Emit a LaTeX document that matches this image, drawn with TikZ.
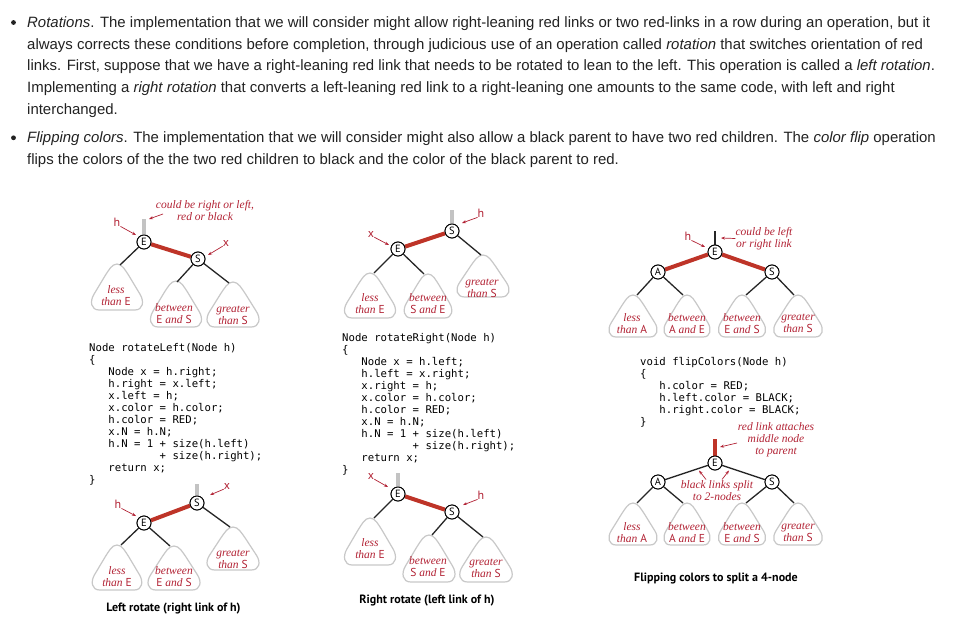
\documentclass[tikz,border=0pt]{standalone}
\usepackage{fontspec}
\setmainfont{Liberation Sans}
\newfontfamily\codefont{DejaVu Sans Mono}
\newfontfamily\labfont{Liberation Serif}
\newfontfamily\sansfont{PT Sans}
\usetikzlibrary{arrows.meta}
\definecolor{txt}{RGB}{34,34,34}
\definecolor{labred}{RGB}{178,34,52}
\definecolor{linkred}{RGB}{190,52,40}
\definecolor{trigray}{RGB}{200,200,200}
\definecolor{stubgray}{RGB}{195,195,195}
\newcommand\ind[1]{\hspace*{#1\fontcharwd\font`x}}
\newcommand\LL[1]{{\sansfont\upshape #1}}
\newcommand\tri[4]{%
\draw[tri] ({#1},{#2}) .. controls ({#1+0.1*#4},{#2}) and ({#1+0.16*#4},{#2+0.14*(#3-#2)}) .. ({#1+0.23*#4},{#2+0.26*(#3-#2)})
 -- ({#1+0.44*#4},{#2+0.66*(#3-#2)})
 .. controls ({#1+0.52*#4},{#2+0.81*(#3-#2)}) and ({#1+0.50*#4},{#3}) .. ({#1+0.34*#4},{#3})
 -- ({#1-0.34*#4},{#3})
 .. controls ({#1-0.50*#4},{#3}) and ({#1-0.52*#4},{#2+0.81*(#3-#2)}) .. ({#1-0.44*#4},{#2+0.66*(#3-#2)})
 -- ({#1-0.23*#4},{#2+0.26*(#3-#2)})
 .. controls ({#1-0.16*#4},{#2+0.14*(#3-#2)}) and ({#1-0.1*#4},{#2}) .. ({#1},{#2}) -- cycle;}
\tikzset{
 body/.style={anchor=base west, inner sep=0, font=\fontsize{14.95}{17}\selectfont, text=txt},
 rb/.style={circle, draw=black, fill=white, line width=0.9pt, minimum size=14pt, inner sep=0, font=\fontsize{10.5}{10.5}\sansfont},
 redlink/.style={draw=linkred, line width=4pt},
 blacklink/.style={draw=black!85, line width=1.3pt},
 stub/.style={draw=stubgray, line width=3.5pt},
 tri/.style={draw=trigray, line width=1.2pt},
 lab/.style={font=\fontsize{11.5}{12}\labfont\itshape, text=labred, align=center, inner sep=0},
 ptr/.style={font=\fontsize{12}{12}\sansfont, text=labred, inner sep=0},
 arr/.style={draw=labred, line width=0.7pt, -{Stealth[length=4pt,width=3pt]}},
 codeblock/.style={font=\fontsize{10.65}{12}\codefont, align=left, anchor=north west, inner sep=0, text=black},
 captext/.style={font=\fontsize{12}{12}\sansfont\bfseries, inner sep=0, text=black},
}
\begin{document}
\begin{tikzpicture}[x=1pt,y=-1pt]
\useasboundingbox (0,0) rectangle (958,642);
\fill[white] (0,0) rectangle (958,642);
% ---------- paragraph text ----------
\fill[txt] (13.5,22.5) circle (2.4);
\fill[txt] (13.5,137.8) circle (2.4);
\node[body] (p1) at (27,27.3) {\textit{Rotations}. The implementation that we will consider might allow right-leaning red links or two red-links in a row during an operation, but it};
\node[body] (p2) at (27,49) {always corrects these conditions before completion, through judicious use of an operation called \textit{rotation} that switches orientation of red};
\node[body] (p3) at (27,70.7) {links. First, suppose that we have a right-leaning red link that needs to be rotated to lean to the left. This operation is called a \textit{left rotation}.};
\node[body] (p4) at (27,92.4) {Implementing a \textit{right rotation} that converts a left-leaning red link to a right-leaning one amounts to the same code, with left and right};
\node[body] (p5) at (27,114.3) {interchanged.};
\node[body] (p6) at (27,142.6) {\textit{Flipping colors}. The implementation that we will consider might also allow a black parent to have two red children. The \textit{color flip} operation};
\node[body] (p7) at (27,164.3) {flips the colors of the the two red children to black and the color of the black parent to red.};
% ---------- diagram 1: before left rotation ----------
\tri{117}{264}{310}{52.5}
\tri{176}{281}{327}{52.5}
\tri{233}{282}{327}{53.5}
\coordinate (d1a) at (120,265);
\coordinate (d1b) at (177,282);
\coordinate (d1c) at (229,283);
\coordinate (d1stub) at (144,219);
\coordinate (d1ht) at (136,235);
\coordinate (d1ct) at (149,219);
\coordinate (d1xt) at (208,255);
\node[rb] (E1) at (144,242) {E};
\node[rb] (S1) at (198,259) {S};
\draw[stub] (d1stub) -- (E1);
\draw[blacklink] (E1) -- (d1a);
\draw[blacklink] (S1) -- (d1b);
\draw[blacklink] (S1) -- (d1c);
\draw[redlink] (E1) -- (S1);
\node[rb] at (E1) {E};
\node[rb] at (S1) {S};
\node[lab] (l1a) at (116,296) {less\\than \LL{E}};
\node[lab] (l1b) at (174,314) {between\\\LL{E} and \LL{S}};
\node[lab] (l1c) at (233,315) {greater\\than \LL{S}};
\node[lab] (c1) at (205,211) {could be right or left,\\red or black};
\node[ptr] (h1) at (117,222) {h};
\node[ptr] (x1) at (226,243) {x};
\draw[arr] (h1.south east) -- (d1ht);
\draw[arr] (163,214) -- (d1ct);
\draw[arr] (x1.south west) -- (d1xt);
% ---------- code 1 ----------
\node[codeblock] (code1) at (89,343.1) {Node rotateLeft(Node h)\\
\{\\
\ind{3}Node x = h.right;\\
\ind{3}h.right = x.left;\\
\ind{3}x.left = h;\\
\ind{3}x.color = h.color;\\
\ind{3}h.color = RED;\\
\ind{3}x.N = h.N;\\
\ind{3}h.N = 1 + size(h.left)\\
\ind{11}+ size(h.right);\\
\ind{3}return x;\\
\}};
% ---------- diagram 2: after left rotation ----------
\tri{117}{545}{590}{51}
\tri{174}{546}{590}{53.5}
\tri{233}{527}{570}{53.5}
\coordinate (d2a) at (121,545);
\coordinate (d2b) at (170,546);
\coordinate (d2c) at (230,527);
\coordinate (d2stub) at (197,484);
\coordinate (d2ht) at (136,516);
\coordinate (d2xt) at (210,495);
\node[rb] (S2) at (197,503) {S};
\node[rb] (E2) at (144,523) {E};
\draw[stub] (d2stub) -- (S2);
\draw[blacklink] (E2) -- (d2a);
\draw[blacklink] (E2) -- (d2b);
\draw[blacklink] (S2) -- (d2c);
\draw[redlink] (E2) -- (S2);
\node[rb] at (S2) {S};
\node[rb] at (E2) {E};
\node[lab] (l2a) at (117,577) {less\\than \LL{E}};
\node[lab] (l2b) at (174,577) {between\\\LL{E} and \LL{S}};
\node[lab] (l2c) at (233,559) {greater\\than \LL{S}};
\node[ptr] (h2) at (118,504) {h};
\node[ptr] (x2) at (227,486) {x};
\draw[arr] (h2.south east) -- (d2ht);
\draw[arr] (x2.south west) -- (d2xt);
\node[captext] (cap1) at (173.5,609) {Left rotate (right link of h)};
% ---------- diagram 3: before right rotation ----------
\tri{370}{273}{318}{52.5}
\tri{428}{274}{318}{49}
\tri{483}{255}{297}{53.5}
\coordinate (d3a) at (374,273);
\coordinate (d3b) at (424,274);
\coordinate (d3c) at (481,255);
\coordinate (d3stub) at (452,210);
\coordinate (d3ht) at (462,223);
\coordinate (d3xt) at (389,245);
\node[rb] (S3) at (452,231) {S};
\node[rb] (E3) at (398,249) {E};
\draw[stub] (d3stub) -- (S3);
\draw[blacklink] (E3) -- (d3a);
\draw[blacklink] (E3) -- (d3b);
\draw[blacklink] (S3) -- (d3c);
\draw[redlink] (E3) -- (S3);
\node[rb] at (S3) {S};
\node[rb] at (E3) {E};
\node[lab] (l3a) at (370,303.5) {less\\than \LL{E}};
\node[lab] (l3b) at (428,304) {between\\\LL{S} and \LL{E}};
\node[lab] (l3c) at (482,288) {greater\\than \LL{S}};
\node[ptr] (h3) at (481,213) {h};
\node[ptr] (x3) at (371,234) {x};
\draw[arr] (h3.south west) -- (d3ht);
\draw[arr] (x3.south east) -- (d3xt);
% ---------- code 2 ----------
\node[codeblock] (code2) at (342,333.1) {Node rotateRight(Node h)\\
\{\\
\ind{3}Node x = h.left;\\
\ind{3}h.left = x.right;\\
\ind{3}x.right = h;\\
\ind{3}x.color = h.color;\\
\ind{3}h.color = RED;\\
\ind{3}x.N = h.N;\\
\ind{3}h.N = 1 + size(h.left)\\
\ind{11}+ size(h.right);\\
\ind{3}return x;\\
\}};
% ---------- diagram 4: after right rotation ----------
\tri{370}{518}{565}{52.5}
\tri{429}{535}{582}{53.5}
\tri{486}{537}{582}{54}
\coordinate (d4a) at (374,518);
\coordinate (d4b) at (432,535);
\coordinate (d4c) at (483,537);
\coordinate (d4stub) at (398,473);
\coordinate (d4ht) at (463,505);
\coordinate (d4xt) at (388,487);
\node[rb] (E4) at (398,494) {E};
\node[rb] (S4) at (452,512) {S};
\draw[stub] (d4stub) -- (E4);
\draw[blacklink] (E4) -- (d4a);
\draw[blacklink] (S4) -- (d4b);
\draw[blacklink] (S4) -- (d4c);
\draw[redlink] (E4) -- (S4);
\node[rb] at (E4) {E};
\node[rb] at (S4) {S};
\node[lab] (l4a) at (370,549) {less\\than \LL{E}};
\node[lab] (l4b) at (428,567) {between\\\LL{S} and \LL{E}};
\node[lab] (l4c) at (486,568.5) {greater\\than \LL{S}};
\node[ptr] (h4) at (481,495) {h};
\node[ptr] (x4) at (371,476) {x};
\draw[arr] (h4.south west) -- (d4ht);
\draw[arr] (x4.south east) -- (d4xt);
\node[captext] (cap2) at (427,601) {Right rotate (left link of h)};
% ---------- diagram 5: before flip ----------
\tri{633}{295}{337}{49.5}
\tri{687}{295}{337}{47.5}
\tri{742}{295}{337}{48.5}
\tri{798}{295}{337}{50}
\coordinate (d5a) at (637,295);
\coordinate (d5b) at (683,295);
\coordinate (d5c) at (746,295);
\coordinate (d5d) at (794,295);
\coordinate (d5stub) at (715,231);
\coordinate (d5ht) at (705,247);
\coordinate (d5ct) at (721,238);
\node[rb] (E5) at (715,252) {E};
\node[rb] (A5) at (658,272) {A};
\node[rb] (S5) at (772,272) {S};
\draw[blacklink] (d5stub) -- (E5);
\draw[blacklink] (A5) -- (d5a);
\draw[blacklink] (A5) -- (d5b);
\draw[blacklink] (S5) -- (d5c);
\draw[blacklink] (S5) -- (d5d);
\draw[redlink] (E5) -- (A5);
\draw[redlink] (E5) -- (S5);
\node[rb] at (E5) {E};
\node[rb] at (A5) {A};
\node[rb] at (S5) {S};
\node[lab] (l5a) at (632,323.5) {less\\than \LL{A}};
\node[lab] (l5b) at (687,323.5) {between\\\LL{A} and \LL{E}};
\node[lab] (l5c) at (742,323.5) {between\\\LL{E} and \LL{S}};
\node[lab] (l5d) at (798,323.5) {greater\\than \LL{S}};
\node[lab] (c5) at (764,238.5) {could be left\\or right link};
\node[ptr] (h5) at (688,236) {h};
\draw[arr] (h5.south east) -- (d5ht);
\draw[arr] (c5.west) -- (d5ct);
% ---------- code 3 ----------
\node[codeblock] (code3) at (640,357.1) {void flipColors(Node h)\\
\{\\
\ind{3}h.color = RED;\\
\ind{3}h.left.color = BLACK;\\
\ind{3}h.right.color = BLACK;\\
\}};
% ---------- diagram 6: after flip ----------
\tri{633}{503}{545}{49.5}
\tri{687}{503}{545}{47.5}
\tri{742}{503}{545}{48.5}
\tri{798}{503}{545}{50}
\coordinate (d6a) at (637,503);
\coordinate (d6b) at (683,503);
\coordinate (d6c) at (746,503);
\coordinate (d6d) at (794,503);
\coordinate (d6stub) at (715,439);
\coordinate (d6rt) at (720,447);
\coordinate (d6l) at (699,470.5);
\coordinate (d6r) at (729,470.5);
\node[rb] (E6) at (715,463) {E};
\node[rb] (A6) at (658,482) {A};
\node[rb] (S6) at (772,482) {S};
\draw[redlink] (d6stub) -- (E6);
\draw[blacklink] (A6) -- (d6a);
\draw[blacklink] (A6) -- (d6b);
\draw[blacklink] (S6) -- (d6c);
\draw[blacklink] (S6) -- (d6d);
\draw[blacklink] (E6) -- (A6);
\draw[blacklink] (E6) -- (S6);
\node[rb] at (E6) {E};
\node[rb] at (A6) {A};
\node[rb] at (S6) {S};
\node[lab] (l6a) at (632,532.5) {less\\than \LL{A}};
\node[lab] (l6b) at (687,532.5) {between\\\LL{A} and \LL{E}};
\node[lab] (l6c) at (742,532.5) {between\\\LL{E} and \LL{S}};
\node[lab] (l6d) at (798,532.5) {greater\\than \LL{S}};
\node[lab] (c6) at (776,440) {red link attaches\\middle node\\to parent};
\node[lab] (b6) at (717,490.5) {black links split\\to 2-nodes};
\draw[arr] (737,443) -- (d6rt);
\draw[arr] (706,479.5) -- (d6l);
\draw[arr] (722,479.5) -- (d6r);
\node[captext] (cap3) at (716,578) {Flipping colors to split a 4-node};
\end{tikzpicture}
\end{document}
